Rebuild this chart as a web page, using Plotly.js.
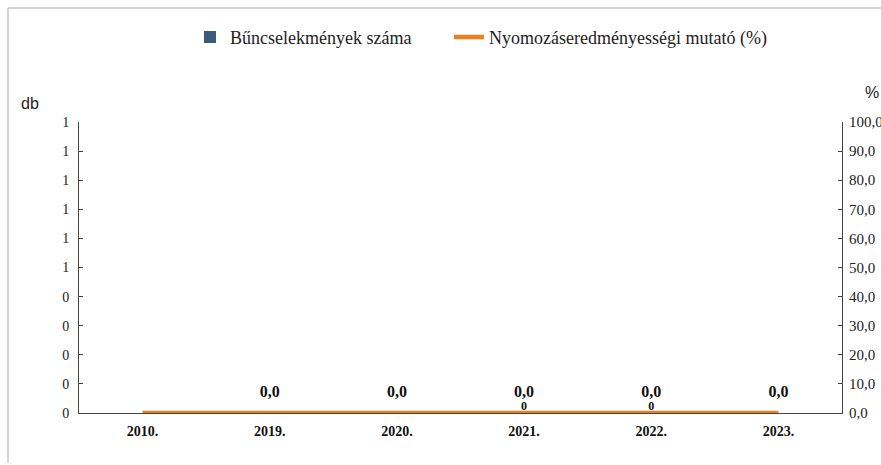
<!DOCTYPE html>
<html>
<head>
<meta charset="utf-8">
<script src="https://cdn.plot.ly/plotly-3.0.1.min.js"></script>
<style>html,body{margin:0;padding:0;background:#fff;}#chart{width:881px;height:465px;}</style>
</head>
<body>
<div id="chart"></div>
<script>
// ---- data ----
const years = ['2010.', '2019.', '2020.', '2021.', '2022.', '2023.'];
const crimeCounts = [0, 0, 0, 0, 0, 0];            // Bűncselekmények száma (db)
const crimeLabelShown = [false, false, false, true, true, false];
const detectionRate = [0, 0, 0, 0, 0, 0];          // Nyomozáseredményességi mutató (%)
const rateLabelShown = [false, true, true, true, true, true];
const leftTickVals = [0, 0.1, 0.2, 0.3, 0.4, 0.5, 0.6, 0.7, 0.8, 0.9, 1.0];
const leftTickText = ['0', '0', '0', '0', '0', '1', '1', '1', '1', '1', '1'];
const rightTickVals = [0, 10, 20, 30, 40, 50, 60, 70, 80, 90, 100];
const rightTickText = ['0,0', '10,0', '20,0', '30,0', '40,0', '50,0', '60,0', '70,0', '80,0', '90,0', '100,0'];

const serif = 'Liberation Serif';
const sans = 'Liberation Sans';
const fmtComma = v => v.toFixed(1).replace('.', ',');

const traces = [
  {
    type: 'bar', name: 'Bűncselekmények száma', legend: 'legend',
    x: years, y: crimeCounts, yaxis: 'y',
    marker: {color: '#3a5b7a', line: {color: '#1e2c3a', width: 0}},
    hoverinfo: 'none'
  },
  {
    type: 'scatter', mode: 'lines+markers+text', name: 'Nyomozáseredményességi mutató (%)', legend: 'legend2',
    x: years, y: detectionRate, yaxis: 'y2',
    line: {color: '#f07d1f', width: 4.5},
    marker: {size: 18, color: 'rgba(0,0,0,0)'},
    text: detectionRate.map((v, i) => rateLabelShown[i] ? fmtComma(v) : ''),
    textposition: 'top center',
    textfont: {family: serif, size: 16, color: '#111', weight: 'bold'},
    cliponaxis: false,
    hoverinfo: 'none'
  },
  {
    type: 'scatter', mode: 'text', showlegend: false,
    x: years, y: crimeCounts, yaxis: 'y',
    text: crimeCounts.map((v, i) => crimeLabelShown[i] ? String(v) : ''),
    textposition: 'top center',
    textfont: {family: serif, size: 12, color: '#111', weight: 'bold'},
    cliponaxis: false,
    hoverinfo: 'none'
  }
];

const legendCommon = {
  orientation: 'h', xanchor: 'left', y: 1.355, yanchor: 'top',
  font: {family: serif, size: 18, color: '#222'},
  itemwidth: 30, bgcolor: 'rgba(0,0,0,0)'
};

const layout = {
  width: 881, height: 465,
  margin: {l: 79, r: 39, t: 122, b: 52},
  paper_bgcolor: '#fff', plot_bgcolor: '#fff',
  font: {family: serif, color: '#222'},
  showlegend: true,
  legend: Object.assign({}, legendCommon, {x: (190 - 79) / 763}),
  legend2: Object.assign({}, legendCommon, {x: (449 - 79) / 763}),
  xaxis: {
    type: 'category', range: [-0.5, 5.5],
    showline: true, linecolor: '#444', linewidth: 1,
    showgrid: false, zeroline: false, ticks: '',
    tickfont: {family: serif, size: 14, color: '#111', weight: 'bold'},
    ticklabelstandoff: 5
  },
  yaxis: {
    range: [0, 1], tickmode: 'array', tickvals: leftTickVals, ticktext: leftTickText,
    showline: true, linecolor: '#444', linewidth: 1,
    ticks: 'inside', ticklen: 4, tickcolor: '#444',
    showgrid: false, zeroline: false,
    tickfont: {family: serif, size: 14, color: '#222'},
    ticklabelstandoff: 6
  },
  yaxis2: {
    range: [0, 100], overlaying: 'y', side: 'right',
    tickmode: 'array', tickvals: rightTickVals, ticktext: rightTickText,
    showline: true, linecolor: '#444', linewidth: 1,
    ticks: 'inside', ticklen: 4, tickcolor: '#444',
    showgrid: false, zeroline: false,
    tickfont: {family: serif, size: 15, color: '#222'},
    ticklabelstandoff: 3
  },
  annotations: [
    {text: 'db', xref: 'paper', yref: 'paper', x: (30 - 79) / 763, y: (413 - 103) / 291,
     xanchor: 'center', yanchor: 'middle', showarrow: false,
     font: {family: sans, size: 16, color: '#222'}},
    {text: '%', xref: 'paper', yref: 'paper', x: (872 - 79) / 763, y: (413 - 93) / 291,
     xanchor: 'center', yanchor: 'middle', showarrow: false,
     font: {family: sans, size: 16, color: '#222'}}
  ],
  shapes: [
    {type: 'line', xref: 'paper', yref: 'paper',
     x0: (8 - 79) / 763, x1: (8 - 79) / 763, y0: (413 - 463) / 291, y1: (413 - 8) / 291,
     line: {color: '#aaa', width: 1}, layer: 'below'},
    {type: 'line', xref: 'paper', yref: 'paper',
     x0: (8 - 79) / 763, x1: (881 - 79) / 763, y0: (413 - 8) / 291, y1: (413 - 8) / 291,
     line: {color: '#aaa', width: 1}, layer: 'below'}
  ]
};

Plotly.newPlot('chart', traces, layout, {staticPlot: true, displayModeBar: false});
</script>
</body>
</html>
